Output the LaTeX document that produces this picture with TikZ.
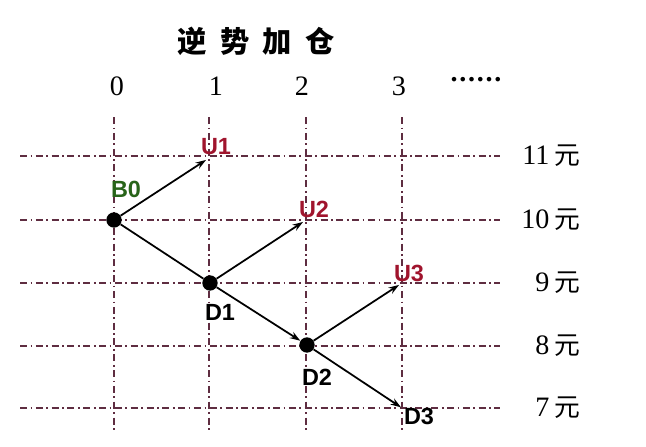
\documentclass[tikz,border=0pt]{standalone}
\usepackage{fontspec}
\setmainfont{Liberation Serif}
\newfontfamily\cjkfont{Noto Sans CJK SC}
\newfontfamily\labelfont{Liberation Sans}
\usetikzlibrary{positioning}
\usetikzlibrary{arrows.meta}

\definecolor{gridcol}{RGB}{95,45,65}
\definecolor{upred}{RGB}{160,20,45}
\definecolor{bgreen}{RGB}{40,100,25}

\begin{document}
\begin{tikzpicture}[x=0.03cm,y=-0.03cm,>={Stealth[length=9pt,width=6pt,inset=3pt]},
  gridline/.style={gridcol,line width=0.9pt,dash pattern=on 6pt off 3pt on 1.5pt off 3pt},
  dot/.style={circle,fill=black,inner sep=0pt,minimum size=0.46cm},
  lbl/.style={font=\labelfont\bfseries\fontsize{20}{20}\selectfont},
  num/.style={font=\fontsize{24}{24}\selectfont},
  move/.style={->,line width=1.5pt}]
\useasboundingbox (0,0) rectangle (646,446);

\node (title) at (256,41) {\cjkfont\bfseries\fontsize{25}{25}\selectfont 逆\hspace{0.45em}势\hspace{0.45em}加\hspace{0.45em}仓};

% time steps
\foreach \i/\x/\lx in {0/114/117,1/209/216,2/306/302,3/402/399} {
  \draw[gridline] (\x,117) -- (\x,430);
  \node[num] (step\i) at (\lx,86) {\i};
}
\node[num] (more) at (476,80) {\bfseries .\hspace{1.5pt}.\hspace{1.5pt}.\hspace{1.5pt}.\hspace{1.5pt}.\hspace{1.5pt}.};

% prices
\foreach \p/\y in {11/156,10/220,9/283,8/346,7/408} {
  \draw[gridline] (20,\y) -- (500,\y);
  \node[num,anchor=east] (price\p) at (584,\y) {\p\,{\cjkfont\fontsize{22}{22}\selectfont 元}};
}

\node[dot] (B0) at (114,220) {};
\node[dot] (D1) at (210,283) {};
\node[dot] (D2) at (307,345) {};
\coordinate (U1) at (209,158);
\coordinate (U2) at (306,220);
\coordinate (U3) at (402,283);
\coordinate (D3) at (402,408);

\draw[move,shorten >=3pt] (B0) -- (U1);
\draw[line width=1.5pt] (B0) -- (D1);
\draw[move,shorten >=3pt] (D1) -- (U2);
\draw[move] (D1) -- (D2);
\draw[move,shorten >=3pt] (D2) -- (U3);
\draw[move,shorten >=1pt] (D2) -- (D3);

\node[lbl,bgreen] (B0lbl) at (126,189) {B0};
\node[lbl,upred] (U1lbl) at (216,147) {U1};
\node[lbl,upred] (U2lbl) at (314,209) {U2};
\node[lbl,upred] (U3lbl) at (409,273) {U3};
\node[lbl] (D1lbl) at (220,312) {D1};
\node[lbl] (D2lbl) at (317,377) {D2};
\node[lbl] (D3lbl) at (419,416) {D3};

\end{tikzpicture}
\end{document}
